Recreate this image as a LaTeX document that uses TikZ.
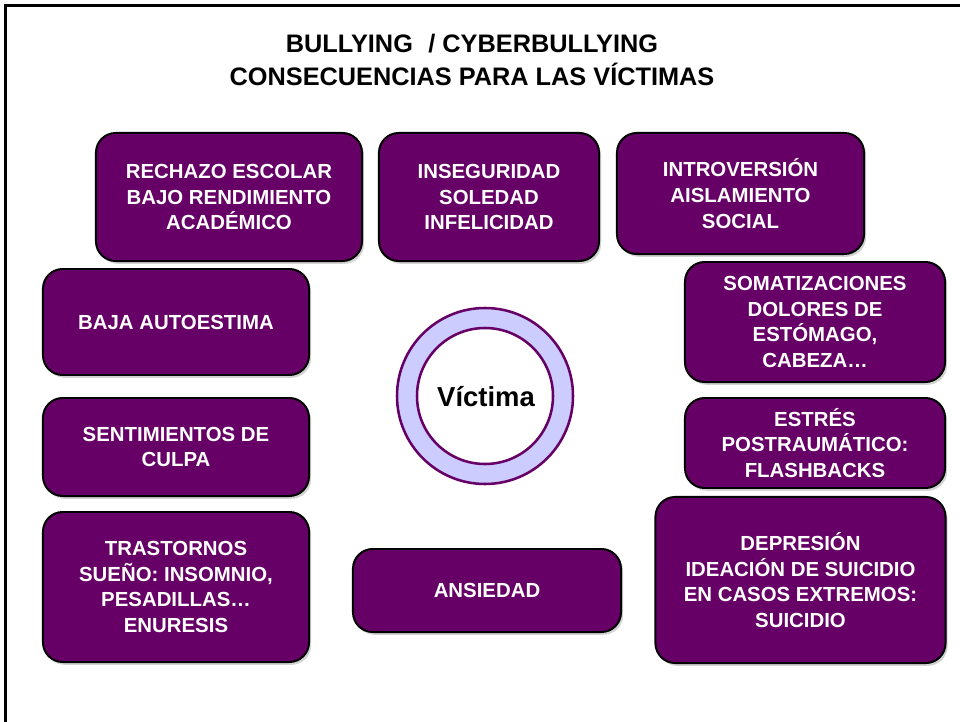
\documentclass[tikz,border=0pt]{standalone}
\usepackage{fontspec}
\setmainfont{Liberation Sans}
\usetikzlibrary{shadows}
\definecolor{plum}{HTML}{660066}
\definecolor{lavender}{HTML}{CCCCFF}
\tikzset{
  conbox/.style={draw=black,line width=1.4pt,fill=plum,rounded corners=14pt,
    text=white,font=\bfseries\fontsize{14.5}{18.4}\selectfont,align=center,
    inner sep=0pt,drop shadow={shadow xshift=1.5pt,shadow yshift=-2pt,opacity=0.35}},
  ring/.style={draw=plum,line width=1.8pt}
}

\begin{document}
\begin{tikzpicture}[x=0.025cm,y=-0.025cm]
    \useasboundingbox (0,0) rectangle (960,722);
    \draw[line width=2.1pt] (5.5,722) -- (5.5,5.5) -- (960,5.5);
    % title
    \node[font=\bfseries\fontsize{18}{23.4}\selectfont,align=center] (title)
      at (472,60) {BULLYING \,\,/ CYBERBULLYING\\CONSECUENCIAS PARA LAS VÍCTIMAS};
    % center ring
    \filldraw[ring,fill=lavender] (485,396) circle (88);
    \filldraw[ring,fill=white] (485,396) circle (68);
    \node[font=\bfseries\fontsize{19.5}{22}\selectfont] (victima) at (486,397) {Víctima};
    % boxes
    \node[conbox,minimum width=6.65cm,minimum height=3.2cm] (rechazo) at (229,197)
      {RECHAZO ESCOLAR\\BAJO RENDIMIENTO\\ACADÉMICO};
    \node[conbox,minimum width=5.5cm,minimum height=3.2cm] (inseguridad) at (489,197)
      {INSEGURIDAD\\SOLEDAD\\INFELICIDAD};
    \node[conbox,minimum width=6.175cm,minimum height=3.025cm] (introversion) at (740.5,193.5)
      {INTROVERSIÓN\\AISLAMIENTO\\SOCIAL};
    \node[conbox,minimum width=6.65cm,minimum height=2.65cm] (autoestima) at (176,322)
      {BAJA AUTOESTIMA};
    \node[conbox,minimum width=6.5cm,minimum height=3cm] (somatizaciones) at (815,322)
      {SOMATIZACIONES\\DOLORES DE\\ESTÓMAGO,\\CABEZA…};
    \node[conbox,minimum width=6.65cm,minimum height=2.45cm] (culpa) at (176,447)
      {SENTIMIENTOS DE\\CULPA};
    \node[conbox,minimum width=6.5cm,minimum height=2.25cm] (estres) at (815,443)
      {ESTRÉS\\POSTRAUMÁTICO:\\FLASHBACKS};
    \node[conbox,minimum width=6.65cm,minimum height=3.75cm] (sueno) at (176,587)
      {TRASTORNOS\\SUEÑO: INSOMNIO,\\PESADILLAS…\\ENURESIS};
    \node[conbox,minimum width=6.7cm,minimum height=2.075cm] (ansiedad) at (487,590.5)
      {ANSIEDAD};
    \node[conbox,minimum width=7.25cm,minimum height=4.15cm] (depresion) at (800.5,580)
      {DEPRESIÓN\\IDEACIÓN DE SUICIDIO\\EN CASOS EXTREMOS:\\SUICIDIO};
\end{tikzpicture}
\end{document}
